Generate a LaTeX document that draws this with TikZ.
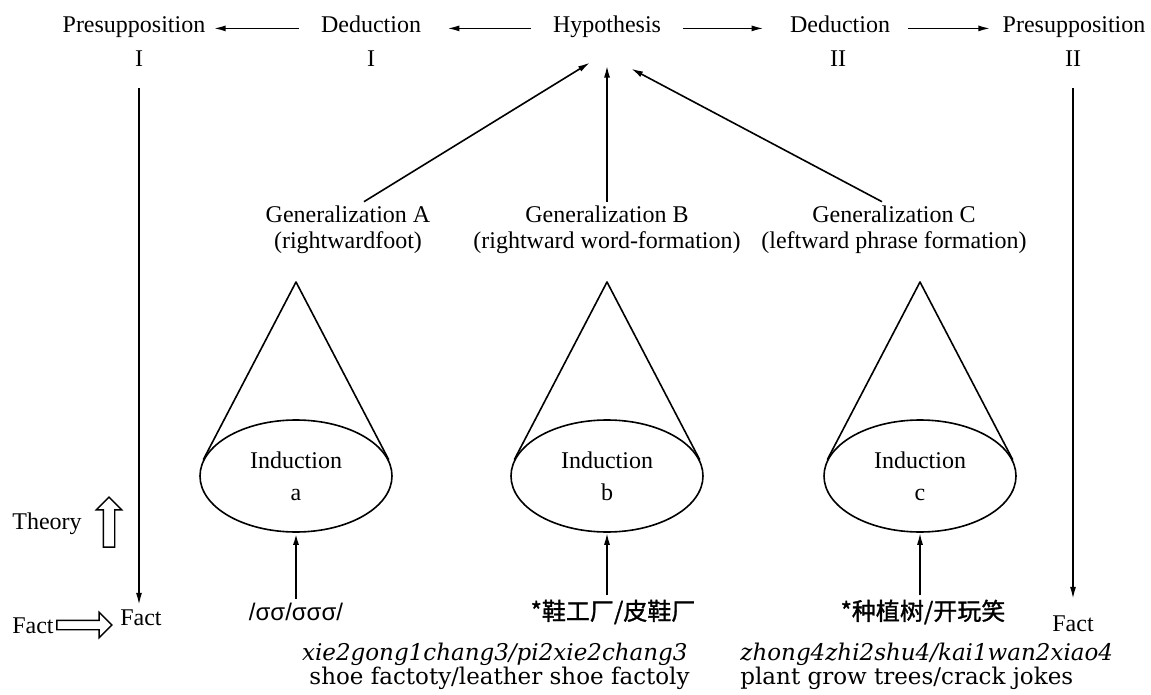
\documentclass[tikz,border=0pt]{standalone}
\usepackage{fontspec}
\setmainfont{Liberation Serif}
\newfontfamily\cjk[FakeBold=1.2]{Noto Sans CJK SC}
\newfontfamily\glossfont{DejaVu Serif}
\newfontfamily\sigmafont{Liberation Sans}
\usetikzlibrary{arrows.meta,shapes.geometric,shapes.arrows}

\tikzset{
    lbl/.style={font=\fontsize{12}{13}\selectfont, inner sep=2pt, align=center},
    flow/.style={-{Latex[length=6pt,width=3pt]}, line width=0.8pt},
    induct/.style={ellipse, draw, line width=0.8pt, minimum width=96pt, minimum height=56pt,
        inner sep=0pt, align=center, font=\fontsize{12}{14}\selectfont},
    cone/.style={line width=0.8pt, line join=round},
    hollow/.style={single arrow, draw, line width=0.7pt, single arrow head extend=3.5pt,
        inner sep=2.5pt, minimum height=25pt},
    sig/.style={font=\sigmafont\fontsize{12}{14}\selectfont, inner sep=2pt},
    hanzi/.style={font=\cjk\fontsize{12}{14}\selectfont, inner sep=2pt},
    gloss/.style={font=\glossfont\fontsize{11.5}{13}\selectfont, inner sep=0pt}
}

\begin{document}
\begin{tikzpicture}[x=0.5pt, y=-0.5pt]
    \fill[white] (0,0) rectangle (1151,695);
    \useasboundingbox (0,0) rectangle (1151,695);
    % top row
    \node[lbl, anchor=base] (presI) at (134,33) {Presupposition};
    \node[lbl, anchor=base] (dedI) at (371,33) {Deduction};
    \node[lbl, anchor=base] (hyp) at (607,33) {Hypothesis};
    \node[lbl, anchor=base] (dedII) at (840,33) {Deduction};
    \node[lbl, anchor=base] (presII) at (1074,33) {Presupposition};
    \node[lbl, anchor=base] (numPI) at (139,67) {I};
    \node[lbl, anchor=base] (numDI) at (371,67) {I};
    \node[lbl, anchor=base] (numDII) at (838,67) {II};
    \node[lbl, anchor=base] (numPII) at (1073,67) {II};
    \draw[flow, shorten <=9pt, shorten >=2pt] (dedI.mid west) -- (presI.mid east);
    \draw[flow, shorten <=9pt, shorten >=11pt] (hyp.mid west) -- (dedI.mid east);
    \draw[flow, shorten <=9pt, shorten >=11pt] (hyp.mid east) -- (dedII.mid west);
    \draw[flow, shorten <=7pt, shorten >=4pt] (dedII.mid east) -- (presII.mid west);
    % generalizations
    \node[lbl] (genA) at (348,230) {Generalization A\\(rightwardfoot)};
    \node[lbl] (genB) at (607,230) {Generalization B\\(rightward word-formation)};
    \node[lbl] (genC) at (894,230) {Generalization C\\(leftward phrase formation)};
    \draw[flow] ([xshift=8pt]genA.north) -- ([shift={(-8.5pt,-10pt)}]hyp.south);
    \draw[flow] (genB.north) -- ([yshift=-11.5pt]hyp.south);
    \draw[flow] ([xshift=-6pt]genC.north) -- ([shift={(12pt,-13pt)}]hyp.south);
    % cones of induction
    \node[induct] (indA) at (296,476) {Induction\\[2pt]a};
    \node[induct] (indB) at (607,476) {Induction\\[2pt]b};
    \node[induct] (indC) at (920,476) {Induction\\[2pt]c};
    \coordinate (topA) at (296,282);
    \coordinate (topB) at (607,282);
    \coordinate (topC) at (920,282);
    \draw[cone] (indA.170) -- (topA) -- (indA.10);
    \draw[cone] (indB.170) -- (topB) -- (indB.10);
    \draw[cone] (indC.170) -- (topC) -- (indC.10);
    % data
    \node[sig] (sigA) at (296,612) {/σσ/σσσ/};
    \node[hanzi] (chB) at (613,612) {*鞋工厂/皮鞋厂};
    \node[hanzi] (chC) at (923,612) {*种植树/开玩笑};
    \draw[flow, line width=1.1pt] (sigA.north -| indA.south) -- (indA.south);
    \draw[flow] (chB.north -| indB.south) -- (indB.south);
    \draw[flow] (chC.north -| indC.south) -- (indC.south);
    \node[gloss, anchor=base east] (pyB) at (688,660) {\itshape xie2gong1chang3/pi2xie2chang3};
    \node[gloss, anchor=base east] (enB) at (690,684) {shoe factoty/leather shoe factoly};
    \node[gloss, anchor=base west] (pyC) at (740,660) {\itshape zhong4zhi2shu4/kai1wan2xiao4};
    \node[gloss, anchor=base west] (enC) at (740,684) {plant grow trees/crack jokes};
    % theory and fact
    \node[lbl, anchor=base] (factL) at (141,625) {Fact};
    \node[lbl, anchor=base] (factR) at (1073,631) {Fact};
    \node[lbl, anchor=base] (factIn) at (33,633) {Fact};
    \node[lbl, anchor=base] (theory) at (47,529) {Theory};
    \node[hollow, inner sep=2pt, single arrow head extend=4pt, minimum height=27.5pt] (factArr) at (82,625) {};
    \node[hollow, shape border rotate=90] (theoryArr) at (109,525) {};
    \draw[flow, shorten <=8.5pt] (numPI.south) -- (numPI.south |- factL.north);
    \draw[flow, shorten <=8.5pt, shorten >=6pt] (numPII.south) -- (numPII.south |- factR.north);
\end{tikzpicture}
\end{document}
